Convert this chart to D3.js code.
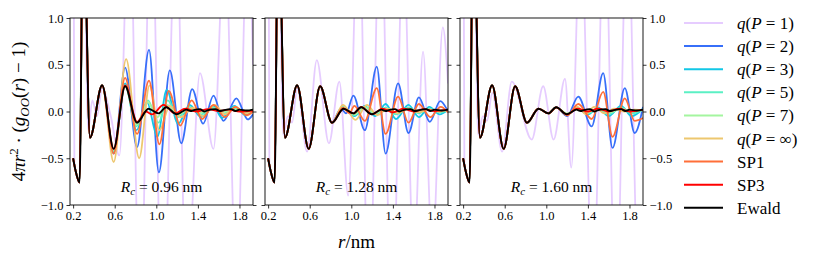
<!DOCTYPE html>
<html>
<head>
<meta charset="utf-8">
<script src="https://cdn.jsdelivr.net/npm/d3@7"></script>
<style>
body { margin: 0; background: #fff; }
text { font-family: "Liberation Serif", "DejaVu Serif", serif; fill: #000; }
</style>
</head>
<body>
<script>
// ---- data: extrema of 4*pi*r^2*(g_OO(r)-1), r in nm ----
var cutoffs = ["0.96", "1.28", "1.60"];
var seriesKeys = ["p1", "p2", "p3", "p5", "p7", "pinf", "sp1", "sp3", "ewald"];
var legendLabels = [["q(", "P", " = 1)"], ["q(", "P", " = 2)"], ["q(", "P", " = 3)"], ["q(", "P", " = 5)"],
                    ["q(", "P", " = 7)"], ["q(", "P", " = ∞)"], ["SP1"], ["SP3"], ["Ewald"]];
var xTicks = [0.2, 0.6, 1.0, 1.4, 1.8];
var yTicks = [-1.0, -0.5, 0.0, 0.5, 1.0];

// shared start of the curves
var ewaldStart = [[0.2, -0.5], [0.225, -0.64]];
var lavenderStart = [[0.203, 2.6], [0.212, -0.56]];
var spike = [[0.262, -0.76], [0.297, 2.3]];
var firstShell = [[0.362, -0.28], [0.479, 0.28]];
var secondShell = [[0.59, -0.40], [0.70, 0.27], [0.814, -0.12]];
var ewaldMid = [[0.925, 0.03], [1.02, -0.02], [1.095, 0.045]];
var ewaldLate = [[1.197, -0.03], [1.25, 0.0], [1.29, 0.02], [1.33, 0.005], [1.36, 0.015], [1.42, 0.025],
                 [1.46, 0.0], [1.5, 0.015], [1.57, 0.025], [1.61, 0.005], [1.65, 0.015], [1.72, 0.025],
                 [1.76, 0.005], [1.8, 0.02], [1.87, 0.01], [1.93, 0.02]];

// Rc = 0.96 nm
var qP1_096 = [[0.345, -0.2], [0.385, 0.12], [0.43, -0.05], [0.479, 0.25], [0.56, -0.04], [0.645, -0.47],
               [0.74, 2.3], [0.845, -2.3], [0.95, 2.4], [1.06, -2.4], [1.19, 2.1], [1.29, -2.0], [1.42, 0.41],
               [1.55, -0.40], [1.66, 1.9], [1.77, -1.9], [1.88, 2.0], [1.93, 0.5]];
var qP2_096 = [[0.59, -0.45], [0.70, 0.47], [0.815, -0.38], [0.93, 0.66], [1.025, -0.65], [1.13, 0.44],
               [1.24, -0.34], [1.345, 0.24], [1.45, -0.13], [1.55, 0.17], [1.645, -0.10], [1.77, 0.14],
               [1.88, -0.085], [1.93, -0.03]];
var qP3_096 = [[0.59, -0.44], [0.70, 0.30], [0.81, -0.20], [0.91, 0.10], [1.01, -0.27], [1.10, 0.23],
               [1.21, -0.13], [1.32, 0.07], [1.43, -0.06], [1.55, 0.06], [1.63, -0.07], [1.75, 0.06],
               [1.86, -0.04], [1.93, 0.02]];
var qP5_096 = [[0.59, -0.42], [0.70, 0.28], [0.81, -0.16], [0.92, 0.12], [1.02, -0.12], [1.11, 0.12],
               [1.21, -0.06], [1.32, 0.05], [1.43, -0.03], [1.55, 0.04], [1.65, -0.02], [1.75, 0.03],
               [1.86, -0.01], [1.93, 0.02]];
var qP7_096 = [[0.59, -0.41], [0.70, 0.27], [0.81, -0.14], [0.92, 0.10], [1.01, -0.06], [1.10, 0.07],
               [1.21, -0.03], [1.32, 0.03], [1.43, -0.01], [1.55, 0.03], [1.65, 0.0], [1.75, 0.02],
               [1.86, 0.0], [1.93, 0.02]];
var qPinf_096 = [[0.59, -0.54], [0.71, 0.56], [0.835, -0.50], [0.935, 0.28], [1.03, -0.2], [1.13, 0.06],
                 [1.24, -0.06], [1.35, 0.04], [1.45, -0.05], [1.56, 0.07], [1.66, -0.03], [1.76, 0.05],
                 [1.86, -0.02], [1.93, 0.02]];
var sp1_096 = [[0.59, -0.45], [0.70, 0.36], [0.815, -0.24], [0.93, 0.33], [1.03, -0.35], [1.12, 0.22],
               [1.23, -0.15], [1.34, 0.12], [1.44, -0.08], [1.55, 0.07], [1.66, -0.06], [1.76, 0.05],
               [1.87, -0.04], [1.93, 0.0]];
var sp3_096 = [[0.59, -0.40], [0.70, 0.28], [0.815, -0.11], [0.90, 0.0], [0.96, -0.03], [1.07, 0.07],
               [1.18, -0.02], [1.28, 0.03], [1.38, 0.0], [1.5, 0.025], [1.6, 0.005], [1.7, 0.02],
               [1.8, 0.0], [1.93, 0.01]];

// Rc = 1.28 nm
var qP1_128 = [[0.345, -0.25], [0.39, -0.05], [0.43, -0.12], [0.48, 0.25], [0.575, -0.43], [0.668, 0.55],
               [0.785, -0.34], [0.885, 0.32], [0.97, -0.9], [1.07, 2.2], [1.17, -2.2], [1.28, 2.3],
               [1.39, -2.3], [1.50, 1.8], [1.6, -1.6], [1.69, 0.64], [1.78, -1.5], [1.88, 0.9], [1.93, 0.3]];
var qP2_128 = [[0.90, 0.03], [0.95, -0.02], [1.02, 0.17], [1.13, -0.2], [1.245, 0.48], [1.33, -0.45],
               [1.45, 0.30], [1.55, -0.23], [1.65, 0.15], [1.755, -0.11], [1.855, 0.11], [1.93, 0.0]];
var qP3_128 = [[0.92, 0.04], [1.03, -0.05], [1.13, 0.06], [1.23, -0.05], [1.33, 0.08], [1.43, -0.08],
               [1.55, 0.07], [1.65, -0.06], [1.75, 0.05], [1.85, -0.03], [1.93, 0.02]];
var qP5_128 = [[0.92, 0.05], [1.03, -0.04], [1.13, 0.05], [1.23, -0.03], [1.33, 0.04], [1.43, -0.03],
               [1.55, 0.04], [1.65, -0.02], [1.75, 0.03], [1.85, -0.01], [1.93, 0.02]];
var qP7_128 = [[0.92, 0.04], [1.03, -0.03], [1.13, 0.05], [1.23, -0.02], [1.33, 0.03], [1.43, -0.01],
               [1.55, 0.03], [1.65, 0.0], [1.75, 0.02], [1.85, 0.0], [1.93, 0.02]];
var qPinf_128 = [[0.92, 0.07], [1.04, -0.09], [1.15, 0.07], [1.25, -0.04], [1.35, 0.03], [1.45, -0.02],
                 [1.55, 0.03], [1.65, -0.01], [1.75, 0.02], [1.85, 0.0], [1.93, 0.02]];
var sp1_128 = [[0.92, 0.04], [0.98, -0.02], [1.03, 0.06], [1.13, -0.1], [1.245, 0.25], [1.33, -0.24],
               [1.45, 0.16], [1.55, -0.12], [1.65, 0.08], [1.76, -0.06], [1.86, 0.05], [1.93, -0.01]];
var sp3_128 = [[0.925, 0.03], [1.02, -0.02], [1.095, 0.05], [1.2, -0.03], [1.3, 0.03], [1.4, -0.01],
               [1.5, 0.03], [1.6, 0.0], [1.7, 0.025], [1.8, 0.005], [1.93, 0.02]];

// Rc = 1.60 nm
var qP1_160 = [[0.345, -0.25], [0.39, -0.05], [0.43, -0.1], [0.48, 0.2], [0.575, -0.43], [0.668, 0.32],
               [0.86, -0.3], [0.97, 0.27], [1.07, -0.3], [1.18, 0.35], [1.24, -0.6], [1.33, 2.0],
               [1.45, -2.0], [1.56, 2.2], [1.67, -2.2], [1.78, 2.2], [1.89, -2.0], [1.93, -1.0]];
var qP2_160 = [[1.2, -0.05], [1.308, 0.16], [1.436, -0.16], [1.547, 0.41], [1.637, -0.39], [1.755, 0.25],
               [1.85, -0.23], [1.93, 0.05]];
var qP3_160 = [[1.2, -0.03], [1.3, 0.03], [1.4, -0.03], [1.5, 0.04], [1.6, -0.05], [1.72, 0.06],
               [1.82, -0.05], [1.93, 0.03]];
var qP5_160 = [[1.2, -0.03], [1.3, 0.03], [1.4, -0.02], [1.5, 0.03], [1.6, -0.03], [1.72, 0.04],
               [1.82, -0.02], [1.93, 0.02]];
var qP7_160 = [[1.2, -0.02], [1.3, 0.03], [1.4, -0.01], [1.5, 0.03], [1.6, -0.01], [1.72, 0.03],
               [1.82, 0.0], [1.93, 0.02]];
var qPinf_160 = [[1.2, -0.04], [1.3, 0.05], [1.38, -0.03], [1.46, 0.05], [1.56, -0.02], [1.65, 0.03],
                 [1.75, 0.0], [1.85, 0.02], [1.93, 0.01]];
var sp1_160 = [[1.2, -0.04], [1.308, 0.08], [1.436, -0.08], [1.547, 0.21], [1.637, -0.27], [1.755, 0.14],
               [1.85, -0.10], [1.93, -0.07]];
var sp3_160 = [[1.2, -0.03], [1.3, 0.03], [1.4, 0.0], [1.5, 0.03], [1.6, 0.0], [1.7, 0.03], [1.8, 0.0],
               [1.93, 0.02]];

// ---- assemble curves per panel ----
var ewald = ewaldStart.concat(spike, firstShell, secondShell, ewaldMid, ewaldLate);
function model(tail) { return ewaldStart.concat(spike, firstShell, tail); }
function modelLate(tail) { return ewaldStart.concat(spike, firstShell, secondShell, tail); }
function modelLast(tail) { return ewaldStart.concat(spike, firstShell, secondShell, ewaldMid, tail); }
function lavender(tail) { return lavenderStart.concat(spike, tail); }

var panelCurves = [
    {p1: lavender(qP1_096), p2: model(qP2_096), p3: model(qP3_096), p5: model(qP5_096), p7: model(qP7_096),
     pinf: model(qPinf_096), sp1: model(sp1_096), sp3: model(sp3_096), ewald: ewald},
    {p1: lavender(qP1_128), p2: modelLate(qP2_128), p3: modelLate(qP3_128), p5: modelLate(qP5_128),
     p7: modelLate(qP7_128), pinf: modelLate(qPinf_128), sp1: modelLate(sp1_128), sp3: modelLate(sp3_128),
     ewald: ewald},
    {p1: lavender(qP1_160), p2: modelLast(qP2_160), p3: modelLast(qP3_160), p5: modelLast(qP5_160),
     p7: modelLast(qP7_160), pinf: modelLast(qPinf_160), sp1: modelLast(sp1_160), sp3: modelLast(sp3_160),
     ewald: ewald}
];

var colors = {p1: "#8000ff", p2: "#376ff9", p3: "#12c7e6", p5: "#5bf0c4", p7: "#a4f59f",
              pinf: "#edc76f", sp1: "#ff6f39", sp3: "#ff0000", ewald: "#000000"};
var opac = {p1: 0.2};

// ---- layout ----
var W = 831, H = 261;
var panelLeft = [70, 265, 460], panelW = 183, panelTop = 18, panelH = 187;

var svg = d3.select("body").append("svg").attr("width", W).attr("height", H);

var x = d3.scaleLinear().domain([0.17, 1.93]).range([0, panelW]);
var y = d3.scaleLinear().domain([-1, 1]).range([panelH, 0]);
var line = d3.line().x(function (d) { return x(d[0]); }).y(function (d) { return y(d[1]); })
    .curve(d3.curveMonotoneX);

function fmt(d) { return (d < 0 ? "\u2212" : "") + Math.abs(d).toFixed(1); }

svg.append("defs").append("clipPath").attr("id", "clip")
    .append("rect").attr("width", panelW).attr("height", panelH);

panelLeft.forEach(function (left, i) {
    var g = svg.append("g").attr("transform", "translate(" + left + "," + panelTop + ")");
    var plot = g.append("g").attr("clip-path", "url(#clip)");
    seriesKeys.forEach(function (k) {
        plot.append("path")
            .attr("d", line(panelCurves[i][k]))
            .attr("fill", "none")
            .attr("stroke", colors[k])
            .attr("stroke-opacity", opac[k] || 1)
            .attr("stroke-width", k == "ewald" ? 1.9 : 1.8)
            .attr("stroke-linejoin", "round");
    });

    var xa = g.append("g").attr("transform", "translate(0," + panelH + ")")
        .call(d3.axisBottom(x).tickValues(xTicks).tickFormat(d3.format(".1f")).tickSize(3.5).tickPadding(3));
    var ya = g.append("g")
        .call(d3.axisLeft(y).tickValues(yTicks).tickFormat(i == 0 ? fmt : "").tickSize(3.5).tickPadding(3));
    var yr = g.append("g").attr("transform", "translate(" + panelW + ",0)")
        .call(d3.axisRight(y).tickValues(yTicks).tickFormat(i == 2 ? fmt : "").tickSize(3.5).tickPadding(3));
    [xa, ya, yr].forEach(function (a) {
        a.select(".domain").remove();
        a.selectAll("line").attr("stroke", "#000").attr("stroke-width", 0.8);
        a.selectAll("text").style("font-size", "12.5px").attr("font-family", null);
    });
    g.append("rect").attr("width", panelW).attr("height", panelH)
        .attr("fill", "none").attr("stroke", "#000").attr("stroke-width", 0.9);

    var ann = g.append("text").attr("x", panelW / 2).attr("y", 174)
        .attr("text-anchor", "middle").style("font-size", "15.5px");
    ann.append("tspan").style("font-style", "italic").text("R");
    ann.append("tspan").style("font-style", "italic").style("font-size", "11px").attr("dy", 3).text("c");
    ann.append("tspan").attr("dy", -3).text(" = " + cutoffs[i] + " nm");
});

// axis labels
var xl = svg.append("text").attr("x", panelLeft[1] + panelW / 2).attr("y", 248)
    .attr("text-anchor", "middle").style("font-size", "19px");
xl.append("tspan").style("font-style", "italic").text("r");
xl.append("tspan").text("/nm");

var yl = svg.append("text").attr("transform", "translate(25," + (panelTop + panelH / 2) + ") rotate(-90)")
    .attr("text-anchor", "middle").style("font-size", "19px");
yl.append("tspan").text("4");
yl.append("tspan").style("font-style", "italic").text("πr");
yl.append("tspan").style("font-size", "13px").attr("dy", -7).text("2");
yl.append("tspan").attr("dy", 7).text(" · (");
yl.append("tspan").style("font-style", "italic").text("g");
yl.append("tspan").style("font-style", "italic").style("font-size", "13px").attr("dy", 4).text("OO");
yl.append("tspan").attr("dy", -4).text("(");
yl.append("tspan").style("font-style", "italic").text("r");
yl.append("tspan").text(") \u2212 1)");

// legend
var leg = svg.append("g").attr("transform", "translate(684,23)");
seriesKeys.forEach(function (k, i) {
    var row = leg.append("g").attr("transform", "translate(0," + (i * 23.1) + ")");
    row.append("line").attr("x1", 0).attr("x2", 39)
        .attr("stroke", colors[k]).attr("stroke-opacity", opac[k] || 1).attr("stroke-width", 2);
    var t = row.append("text").attr("x", 53).attr("y", 6).style("font-size", "17px");
    var parts = legendLabels[i];
    if (parts.length == 1) {
        t.text(parts[0]);
    } else {
        t.append("tspan").style("font-style", "italic").text("q");
        t.append("tspan").text("(");
        t.append("tspan").style("font-style", "italic").text(parts[1]);
        t.append("tspan").text(parts[2]);
    }
});
</script>
</body>
</html>
